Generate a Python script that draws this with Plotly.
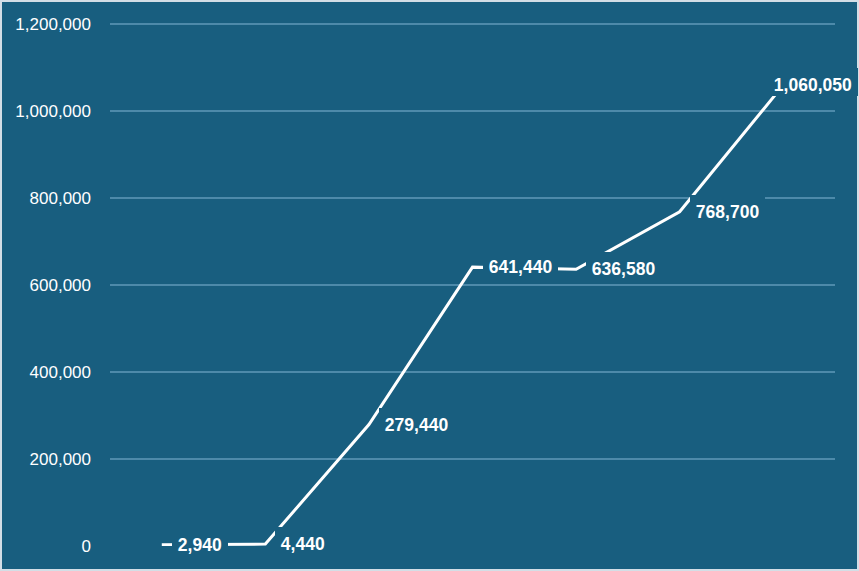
import plotly.graph_objects as go

categories = ["1", "2", "3", "4", "5", "6", "7"]
values = [2940, 4440, 279440, 641440, 636580, 768700, 1060050]
label_shift = [10, 10, 10, 10, 10, 10, -15]

BG = "#185e7f"
GRID = "#4d8aaa"
W, H = 859, 571
ML, MR, MT, MB = 110, 24, 23, 25

fig = go.Figure()
fig.add_trace(go.Scatter(
    x=list(range(len(categories))), y=values, mode="lines",
    line=dict(color="white", width=3), hoverinfo="skip", showlegend=False,
))

for i, v in enumerate(values):
    fig.add_annotation(
        x=i, y=v, xref="x", yref="y", text=f"\u00a0{v:,}\u00a0", showarrow=False,
        xanchor="left", yanchor="middle", xshift=label_shift[i], yshift=3,
        bgcolor=BG, borderpad=1, borderwidth=0, height=26, valign="bottom",
        font=dict(family="Liberation Sans", size=17.5, color="white", weight="bold"),
    )

pw = W - ML - MR
ph = H - MT - MB
fig.add_shape(
    type="rect", xref="paper", yref="paper",
    x0=-(ML - 1) / pw, x1=1 + (MR - 1) / pw,
    y0=-(MB - 1) / ph, y1=1 + (MT - 1) / ph,
    line=dict(color="#d3dee6", width=2), fillcolor="rgba(0,0,0,0)", layer="below",
)

fig.update_layout(
    width=W, height=H,
    margin=dict(l=ML, r=MR, t=MT, b=MB),
    paper_bgcolor=BG, plot_bgcolor=BG,
    font=dict(family="Liberation Sans", color="white", size=17),
    xaxis=dict(range=[-0.5, 6.5], showgrid=False, zeroline=False,
               showticklabels=False, showline=False, ticks=""),
    yaxis=dict(range=[0, 1203000], dtick=200000, tickformat=",",
               showgrid=True, gridcolor=GRID, gridwidth=2, zeroline=False,
               showline=False, ticks="", ticklabelstandoff=18,
               tickfont=dict(size=17, color="white")),
)

fig.write_html("out.html", config={"displayModeBar": False},
               post_script="document.body.style.margin='0';document.body.style.overflow='hidden';")
